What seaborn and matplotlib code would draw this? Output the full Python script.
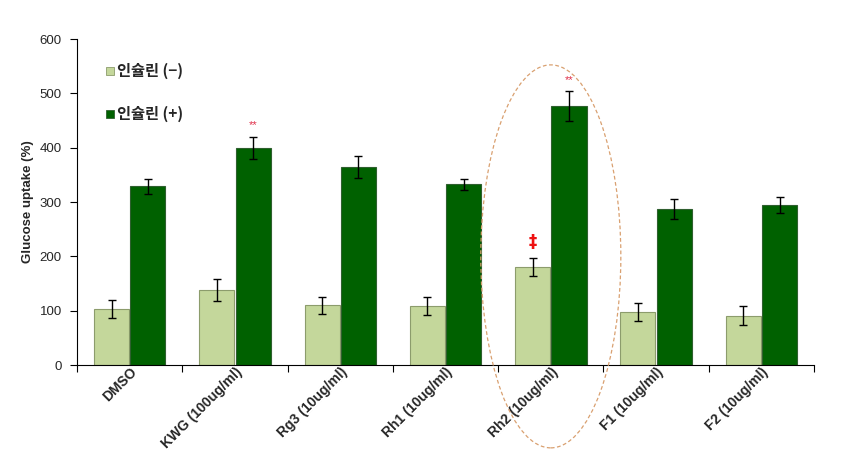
import matplotlib
matplotlib.use("Agg")
import matplotlib.pyplot as plt
from matplotlib.patches import Ellipse
from matplotlib.lines import Line2D
import seaborn as sns
import pandas as pd
import numpy as np

categories = ["DMSO", "KWG (100ug/ml)", "Rg3 (10ug/ml)", "Rh1 (10ug/ml)",
              "Rh2 (10ug/ml)", "F1 (10ug/ml)", "F2 (10ug/ml)"]
series_names = ["인슐린 (−)", "인슐린 (+)"]
insulin_minus = [103, 138, 110, 109, 180, 98, 91]
insulin_minus_err = [17, 20, 16, 17, 17, 17, 18]
insulin_plus = [329, 399, 364, 333, 477, 287, 295]
insulin_plus_err = [14, 20, 20, 10, 27, 19, 15]
yticks = [0, 100, 200, 300, 400, 500, 600]

sns.set_theme(style="white")
plt.rcParams['font.family'] = ['Liberation Sans', 'Noto Sans CJK KR', 'DejaVu Sans']

df = pd.DataFrame({
    "cat": categories * 2,
    "group": [series_names[0]] * len(categories) + [series_names[1]] * len(categories),
    "val": insulin_minus + insulin_plus,
})

fig = plt.figure(figsize=(8.54, 4.71), dpi=100)
ax = fig.add_axes([0.0902, 0.225, 0.863, 0.692])

colors = ["#c4d79b", "#006100"]
sns.barplot(data=df, x="cat", y="val", hue="group", order=categories,
            hue_order=series_names, palette=colors, width=0.69, gap=0.035,
            saturation=1, errorbar=None, ax=ax, legend=False)

edge_cols = ["#8c9c6c", "#2f5f2f"]
for cont, ec in zip(ax.containers, edge_cols):
    for b in cont:
        b.set_edgecolor(ec)
        b.set_linewidth(0.8)

for cont, vals, errs in zip(ax.containers, [insulin_minus, insulin_plus],
                            [insulin_minus_err, insulin_plus_err]):
    xs = [b.get_x() + b.get_width() / 2 for b in cont]
    ax.errorbar(xs, vals, yerr=errs, fmt="none", ecolor="black",
                elinewidth=1, capsize=3.2, capthick=1, zorder=5)

ax.set_ylim(0, 600)
ax.set_xlim(-0.5, len(categories) - 0.5)
ax.set_yticks(yticks)
ax.set_yticklabels([str(t) for t in yticks], fontsize=9.5)
ax.set_xticks(range(len(categories)))
ax.set_xticklabels(categories, rotation=45, ha="right", va="top",
                   rotation_mode="anchor", fontsize=10, fontweight="bold")
ax.tick_params(axis="x", which="major", length=0, pad=0)
ax.set_xticks(np.arange(-0.5, len(categories), 1.0), minor=True)
ax.tick_params(axis="x", which="minor", length=5, width=0.8, direction="out",
               color="black", bottom=True)
ax.tick_params(axis="y", length=5, width=0.8, direction="out", color="black",
               left=True, pad=6)
ax.set_xlabel("")
ax.set_ylabel("Glucose uptake (%)", fontsize=9.5, fontweight="bold", labelpad=4)

for s in ["top", "right"]:
    ax.spines[s].set_visible(False)
for s in ["left", "bottom"]:
    ax.spines[s].set_color("black")
    ax.spines[s].set_linewidth(0.8)

# legend
handles = [Line2D([], [], marker="s", linestyle="none", markersize=6,
                  markerfacecolor=c, markeredgecolor=ec, markeredgewidth=0.6)
           for c, ec in zip(colors, edge_cols)]
leg = ax.legend(handles, series_names, loc="upper left",
                bbox_to_anchor=(0.03, 0.945), frameon=False,
                prop={"weight": "bold", "size": 11,
                      "family": ['Noto Sans CJK KR', 'Liberation Sans']},
                labelspacing=1.75, handlelength=0.6, handletextpad=0.2,
                borderaxespad=0)

# annotations
plus_x = [b.get_x() + b.get_width() / 2 for b in ax.containers[1]]
minus_x = [b.get_x() + b.get_width() / 2 for b in ax.containers[0]]
ax.text(plus_x[1], 442, "**", color="#e0304a", fontsize=8, ha="center", va="center")
ax.text(plus_x[4], 524, "**", color="#e0304a", fontsize=8, ha="center", va="center")
ax.text(minus_x[4], 226, "‡", color="#ee1111", fontsize=12, fontweight="bold",
        ha="center", va="center", family=["DejaVu Sans"])

ell = Ellipse((4.0, 200), width=1.33, height=705, fill=False,
              edgecolor="#d9a070", linestyle=(0, (3, 2)), linewidth=0.9,
              clip_on=False, zorder=6)
ax.add_patch(ell)

fig.savefig("out.png", dpi=100)
